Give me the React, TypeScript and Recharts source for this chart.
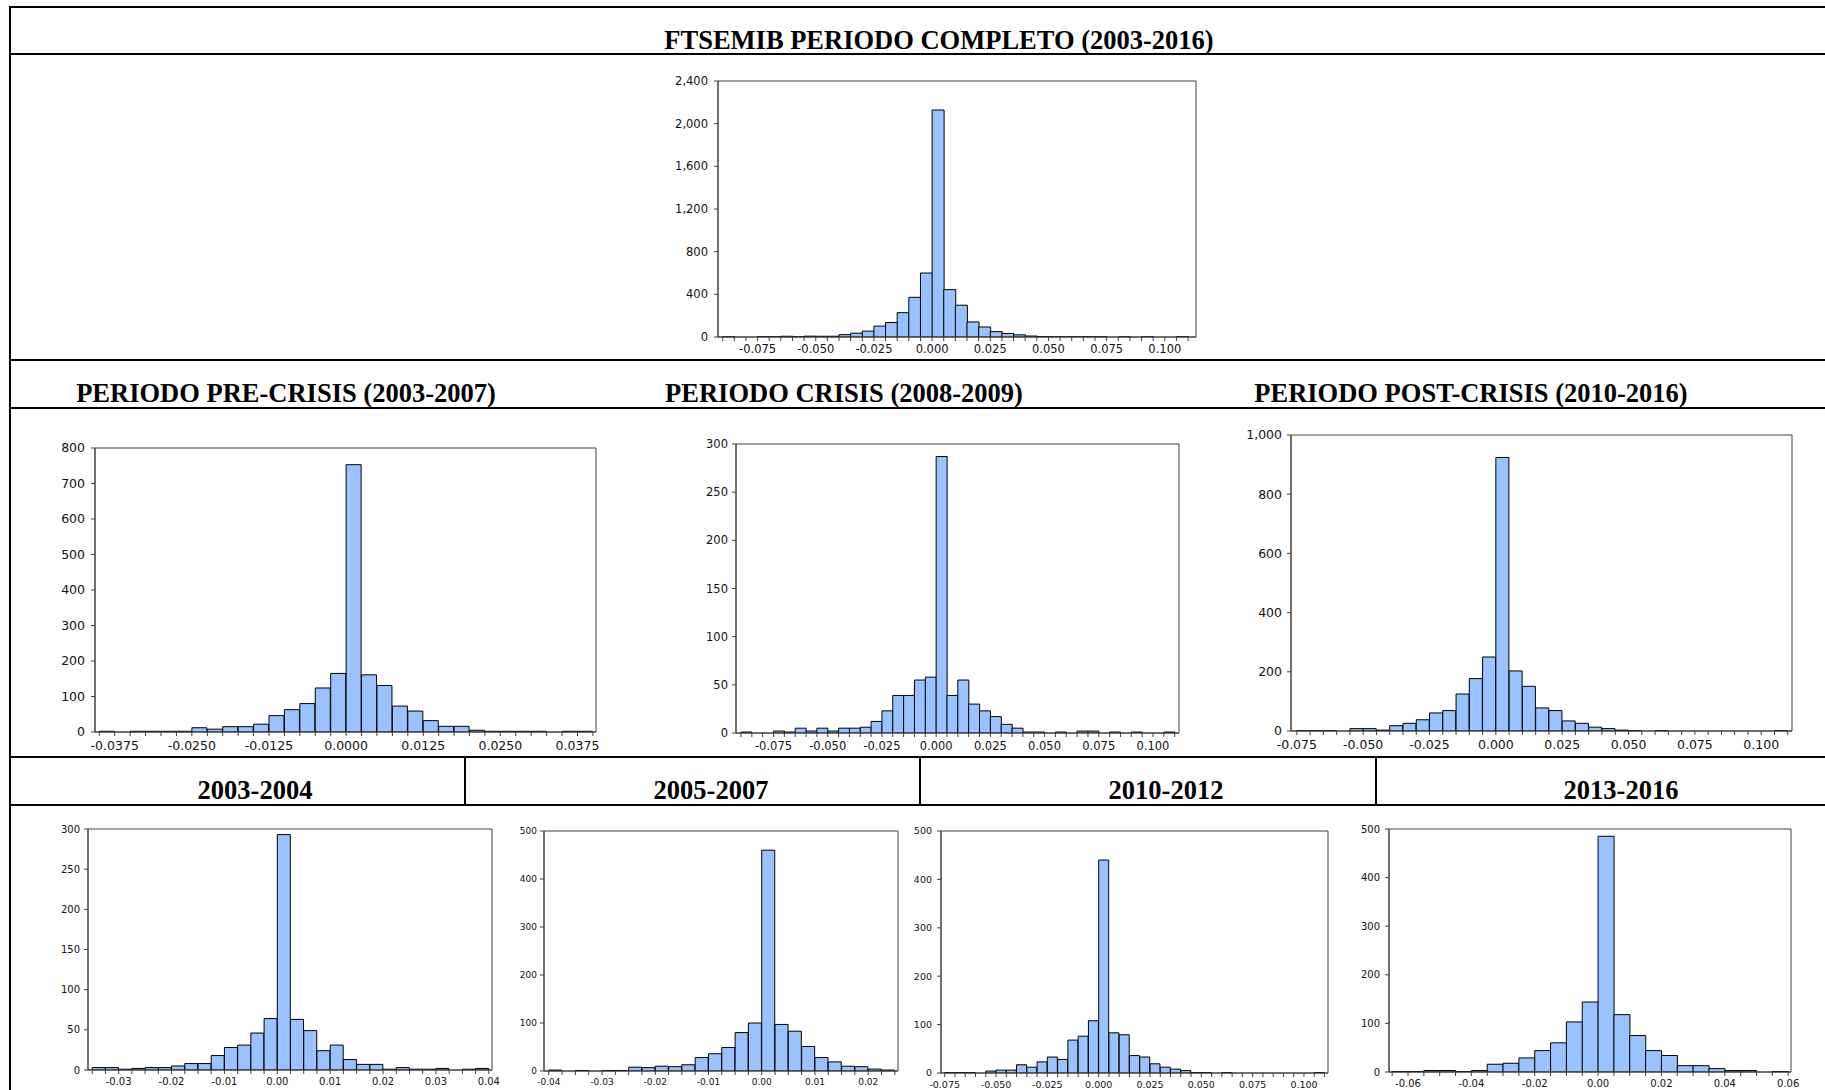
import React from "react";
import { BarChart, Bar, XAxis, YAxis, ReferenceArea } from "recharts";

// ---- data: histogram counts (bin start, bin width, counts per bin) ----

// FTSEMIB periodo completo 2003-2016, bins of 0.005 from -0.090
const fullStart = -0.09;
const fullStep = 0.005;
const fullCounts = [
  1, 0, 0, 3, 2, 7, 2, 8, 7, 7, 22, 36, 55, 102, 136, 228, 372, 600,
  2128, 444, 298, 141, 94, 50, 33, 20, 9, 4, 1, 1, 1, 2, 2, 0, 1, 0, 1, 0, 0, 2,
];
const fullXTicks = [-0.075, -0.05, -0.025, 0, 0.025, 0.05, 0.075, 0.1];
const fullYTicks = [0, 400, 800, 1200, 1600, 2000, 2400];

// pre-crisis 2003-2007, bins of 0.0025 from -0.040
const preStart = -0.04;
const preStep = 0.0025;
const preCounts = [
  2, 0, 2, 2, 2, 2, 12, 8, 15, 15, 22, 46, 63, 80, 124, 165,
  753, 161, 131, 73, 59, 32, 16, 16, 5, 2, 2, 2, 2, 0, 2, 2,
];
const preXTicks = [-0.0375, -0.025, -0.0125, 0, 0.0125, 0.025, 0.0375];
const preYTicks = [0, 100, 200, 300, 400, 500, 600, 700, 800];

// crisis 2008-2009, bins of 0.005 from -0.090
const crisisStart = -0.09;
const crisisStep = 0.005;
const crisisCounts = [
  1, 0, 0, 2, 1, 5, 2, 5, 2, 5, 5, 6, 12, 23, 39, 39, 55, 58,
  287, 39, 55, 30, 23, 17, 9, 5, 1, 1, 0, 1, 0, 2, 2, 0, 1, 0, 1, 0, 0, 1,
];
const crisisXTicks = [-0.075, -0.05, -0.025, 0, 0.025, 0.05, 0.075, 0.1];
const crisisYTicks = [0, 50, 100, 150, 200, 250, 300];

// post-crisis 2010-2016, bins of 0.005 from -0.075
const postStart = -0.075;
const postStep = 0.005;
const postCounts = [
  1, 1, 1, 0, 8, 8, 3, 18, 26, 38, 61, 69, 125, 177, 250,
  924, 203, 151, 78, 69, 34, 26, 13, 8, 3, 1, 0, 1, 0, 0, 0, 0, 0, 0, 0, 0, 1,
];
const postXTicks = [-0.075, -0.05, -0.025, 0, 0.025, 0.05, 0.075, 0.1];
const postYTicks = [0, 200, 400, 600, 800, 1000];

// 2003-2004, bins of 0.0025 from -0.035
const y0304Start = -0.035;
const y0304Step = 0.0025;
const y0304Counts = [
  3, 3, 1, 2, 3, 3, 5, 8, 8, 18, 28, 31, 46, 64,
  293, 63, 49, 24, 31, 13, 7, 7, 1, 3, 1, 1, 2, 0, 1, 2,
];
const y0304XTicks = [-0.03, -0.02, -0.01, 0, 0.01, 0.02, 0.03, 0.04];
const y0304YTicks = [0, 50, 100, 150, 200, 250, 300];

// 2005-2007, bins of 0.0025 from -0.040
const y0507Start = -0.04;
const y0507Step = 0.0025;
const y0507Counts = [
  2, 0, 1, 0, 1, 1, 8, 7, 10, 9, 13, 28, 36, 49, 80, 100,
  460, 97, 83, 51, 28, 19, 10, 9, 4, 2,
];
const y0507XTicks = [-0.04, -0.03, -0.02, -0.01, 0, 0.01, 0.02];
const y0507YTicks = [0, 100, 200, 300, 400, 500];

// 2010-2012, bins of 0.005 from -0.075
const y1012Start = -0.075;
const y1012Step = 0.005;
const y1012Counts = [
  1, 1, 1, 0, 4, 6, 6, 17, 12, 23, 33, 28, 68, 76, 108,
  440, 83, 79, 36, 33, 19, 12, 8, 5, 1, 1, 0, 1, 0, 0, 0, 0, 0, 0, 0, 0, 1,
];
const y1012XTicks = [-0.075, -0.05, -0.025, 0, 0.025, 0.05, 0.075, 0.1];
const y1012YTicks = [0, 100, 200, 300, 400, 500];

// 2013-2016, bins of 0.005 from -0.065
const y1316Start = -0.065;
const y1316Step = 0.005;
const y1316Counts = [
  1, 1, 3, 3, 1, 3, 16, 18, 29, 44, 60, 103, 144,
  485, 118, 75, 44, 34, 13, 13, 7, 3, 3, 0, 1,
];
const y1316XTicks = [-0.06, -0.04, -0.02, 0, 0.02, 0.04, 0.06];
const y1316YTicks = [0, 100, 200, 300, 400, 500];

// ---- styling ----
const BAR_FILL = "#99c2ff";
const FRAME = "#404040";
const TEXT = "#111";
const TICK_FONT = "'DejaVu Sans', Verdana, sans-serif";
const TITLE_FONT = "'Liberation Serif', 'Times New Roman', serif";
const Y_W = 64;
const X_H = 30;
const PAD = 14;
const PAD_R = 22;

type Box = { x: number; y: number; w: number; h: number };

function Histogram({
  start,
  step,
  counts,
  domain,
  xTicks,
  yTicks,
  decimals,
  box,
  fontSize,
  xGap,
  yGap,
}: {
  start: number;
  step: number;
  counts: number[];
  domain: [number, number];
  xTicks: number[];
  yTicks: number[];
  decimals: number;
  box: Box;
  fontSize: number;
  xGap: number;
  yGap: number;
}) {
  const rows = counts.map((n, i) => ({ bin: i, x0: start + i * step, n }));
  const end = start + counts.length * step;
  const edges = [...rows.map((r) => r.x0), end];
  const span = domain[1] - domain[0];
  const padLeft = ((start - domain[0]) / span) * box.w;
  const padRight = ((domain[1] - end) / span) * box.w;
  const yMax = yTicks[yTicks.length - 1];

  // every bin edge gets a tick mark, only the major ones get a label
  const renderXTick = (p: any) => {
    const v = p.payload.value;
    const major = xTicks.find((t) => Math.abs(t - v) < 1e-9);
    if (major === undefined) return <g />;
    return (
      <text
        x={p.x}
        y={p.y}
        dy="0.71em"
        textAnchor="middle"
        fontSize={fontSize}
        fontFamily={TICK_FONT}
        fill={TEXT}
      >
        {major.toFixed(decimals)}
      </text>
    );
  };

  return (
    <div style={{ position: "absolute", left: box.x - Y_W, top: box.y - PAD }}>
      <BarChart
        width={box.w + Y_W + PAD_R}
        height={box.h + PAD + X_H}
        data={rows}
        margin={{ top: PAD, right: PAD_R, bottom: 0, left: 0 }}
        barCategoryGap={0}
        barGap={0}
      >
        <XAxis
          xAxisId="val"
          dataKey="x0"
          type="number"
          domain={domain}
          allowDataOverflow
          ticks={edges}
          interval={0}
          height={X_H}
          tickSize={4}
          tickMargin={xGap}
          stroke={FRAME}
          tick={renderXTick}
        />
        <XAxis
          xAxisId="bins"
          dataKey="bin"
          type="category"
          hide
          height={0}
          padding={{ left: padLeft, right: padRight }}
        />
        <YAxis
          type="number"
          domain={[0, yMax]}
          ticks={yTicks}
          interval={0}
          width={Y_W}
          tickSize={4}
          tickMargin={yGap}
          stroke={FRAME}
          allowDataOverflow
          tick={{ fontSize, fill: TEXT, fontFamily: TICK_FONT }}
          tickFormatter={(v: number) => v.toLocaleString("en-US")}
        />
        <Bar
          xAxisId="bins"
          dataKey="n"
          fill={BAR_FILL}
          stroke="#000"
          strokeWidth={1}
          isAnimationActive={false}
        />
        <ReferenceArea
          xAxisId="val"
          x1={domain[0]}
          x2={domain[1]}
          y1={0}
          y2={yMax}
          fill="none"
          stroke={FRAME}
          strokeWidth={1}
          ifOverflow="visible"
        />
      </BarChart>
    </div>
  );
}

const hLines = [7, 54, 360, 408, 757, 805];
const vDividers = [465, 920, 1376];

const titles = [
  { text: "FTSEMIB PERIODO COMPLETO (2003-2016)", x: 939, y: 48.5 },
  { text: "PERIODO PRE-CRISIS (2003-2007)", x: 286, y: 401.5 },
  { text: "PERIODO CRISIS (2008-2009)", x: 844, y: 401.5 },
  { text: "PERIODO POST-CRISIS (2010-2016)", x: 1471, y: 401.5 },
  { text: "2003-2004", x: 255, y: 798.5 },
  { text: "2005-2007", x: 711, y: 798.5 },
  { text: "2010-2012", x: 1166, y: 798.5 },
  { text: "2013-2016", x: 1621, y: 798.5 },
];

export default function App() {
  return (
    <div
      style={{
        position: "fixed",
        left: 0,
        top: 0,
        width: 1825,
        height: 1090,
        overflow: "hidden",
        background: "#fff",
      }}
    >
      <svg width={1825} height={1090} style={{ position: "absolute", left: 0, top: 0 }}>
        {hLines.map((y) => (
          <line key={y} x1={10} x2={1825} y1={y} y2={y} stroke="#000" strokeWidth={2} />
        ))}
        <line x1={10} x2={10} y1={6} y2={1090} stroke="#000" strokeWidth={2} />
        {vDividers.map((x) => (
          <line key={x} x1={x} x2={x} y1={757} y2={805} stroke="#000" strokeWidth={2} />
        ))}
        {titles.map((t) => (
          <text
            key={t.text}
            x={t.x}
            y={t.y}
            textAnchor="middle"
            fontFamily={TITLE_FONT}
            fontWeight="bold"
            fontSize={26.5}
            fill="#000"
          >
            {t.text}
          </text>
        ))}
      </svg>

      <Histogram
        start={fullStart}
        step={fullStep}
        counts={fullCounts}
        domain={[-0.092, 0.1134]}
        xTicks={fullXTicks}
        yTicks={fullYTicks}
        decimals={3}
        box={{ x: 718, y: 81, w: 478, h: 256 }}
        fontSize={11.5}
        xGap={4}
        yGap={6}
      />
      <Histogram
        start={preStart}
        step={preStep}
        counts={preCounts}
        domain={[-0.0407, 0.0405]}
        xTicks={preXTicks}
        yTicks={preYTicks}
        decimals={4}
        box={{ x: 95, y: 448, w: 501, h: 284 }}
        fontSize={12.5}
        xGap={5}
        yGap={6}
      />
      <Histogram
        start={crisisStart}
        step={crisisStep}
        counts={crisisCounts}
        domain={[-0.0923, 0.112]}
        xTicks={crisisXTicks}
        yTicks={crisisYTicks}
        decimals={3}
        box={{ x: 736, y: 444, w: 443, h: 289 }}
        fontSize={11.5}
        xGap={5}
        yGap={4}
      />
      <Histogram
        start={postStart}
        step={postStep}
        counts={postCounts}
        domain={[-0.0772, 0.1116]}
        xTicks={postXTicks}
        yTicks={postYTicks}
        decimals={3}
        box={{ x: 1291, y: 435, w: 501, h: 296 }}
        fontSize={12.5}
        xGap={5}
        yGap={5}
      />
      <Histogram
        start={y0304Start}
        step={y0304Step}
        counts={y0304Counts}
        domain={[-0.0358, 0.0406]}
        xTicks={y0304XTicks}
        yTicks={y0304YTicks}
        decimals={2}
        box={{ x: 88, y: 829, w: 404, h: 241 }}
        fontSize={10}
        xGap={4}
        yGap={4}
      />
      <Histogram
        start={y0507Start}
        step={y0507Step}
        counts={y0507Counts}
        domain={[-0.0409, 0.0256]}
        xTicks={y0507XTicks}
        yTicks={y0507YTicks}
        decimals={2}
        box={{ x: 544, y: 831, w: 354, h: 240 }}
        fontSize={9}
        xGap={4}
        yGap={3}
      />
      <Histogram
        start={y1012Start}
        step={y1012Step}
        counts={y1012Counts}
        domain={[-0.0768, 0.1117]}
        xTicks={y1012XTicks}
        yTicks={y1012YTicks}
        decimals={3}
        box={{ x: 941, y: 831, w: 387, h: 242 }}
        fontSize={9.5}
        xGap={4}
        yGap={5}
      />
      <Histogram
        start={y1316Start}
        step={y1316Step}
        counts={y1316Counts}
        domain={[-0.066, 0.0609]}
        xTicks={y1316XTicks}
        yTicks={y1316YTicks}
        decimals={2}
        box={{ x: 1389, y: 829, w: 402, h: 243 }}
        fontSize={10}
        xGap={4}
        yGap={5}
      />
    </div>
  );
}
